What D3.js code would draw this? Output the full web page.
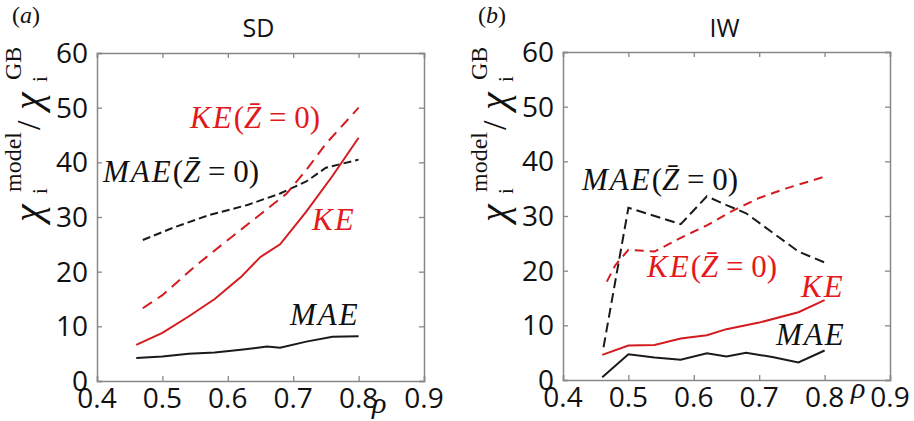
<!DOCTYPE html>
<html>
<head>
<meta charset="utf-8">
<script src="https://cdn.jsdelivr.net/npm/d3@7"></script>
<style>
  body { margin: 0; background: #fff; }
</style>
</head>
<body>
<div id="chart"></div>
<script>
// axis ticks
const rhoTicks = [0.4, 0.5, 0.6, 0.7, 0.8, 0.9];
const chiTicks = [0, 10, 20, 30, 40, 50, 60];

// (a) SD   [rho, chi_model / chi_GB]
const sdKE = [[0.46, 6.6], [0.5, 8.8], [0.54, 11.8], [0.58, 15], [0.62, 19], [0.65, 22.7], [0.68, 25], [0.72, 31], [0.76, 37.5], [0.8, 44.5]];
const sdKE0 = [[0.47, 13.3], [0.5, 15.7], [0.55, 21], [0.6, 25.8], [0.65, 30.5], [0.69, 34.3], [0.72, 38.6], [0.75, 43.4], [0.8, 50]];
const sdMAE = [[0.46, 4.2], [0.5, 4.5], [0.54, 5], [0.58, 5.2], [0.62, 5.7], [0.66, 6.3], [0.68, 6.1], [0.72, 7.2], [0.76, 8.1], [0.8, 8.2]];
const sdMAE0 = [[0.47, 25.8], [0.52, 28.2], [0.57, 30.3], [0.63, 32.2], [0.68, 34.3], [0.72, 36.5], [0.75, 39], [0.8, 40.5]];

// (b) IW
const iwKE = [[0.46, 4.6], [0.5, 6.3], [0.54, 6.4], [0.58, 7.6], [0.62, 8.2], [0.65, 9.3], [0.7, 10.5], [0.76, 12.4], [0.8, 14.6]];
const iwKE0 = [[0.467, 18], [0.48, 21], [0.5, 23.8], [0.54, 23.5], [0.58, 26], [0.62, 28.3], [0.66, 31], [0.7, 33.3], [0.74, 35], [0.8, 37.2]];
const iwMAE = [[0.46, 0.5], [0.5, 4.7], [0.54, 4.1], [0.58, 3.7], [0.62, 4.9], [0.65, 4.3], [0.68, 5], [0.72, 4.2], [0.76, 3.2], [0.8, 5.4]];
const iwMAE0 = [[0.462, 6], [0.5, 31.5], [0.58, 28.5], [0.62, 33.6], [0.65, 32], [0.68, 30.5], [0.76, 23.5], [0.8, 21.5]];

const RED = "#d41c20";
const BLACK = "#1a1a1a";
const MATH = "'Liberation Serif', serif";
const SANS = "'Open Sans', sans-serif";

const panels = [
  {
    tag: "a", title: "SD", x0: 97, x1: 424, y0: 381, y1: 53, ox: 0,
    rhoLabel: [372, 413],
    series: [
      { data: sdMAE0, color: BLACK, dash: "8,4" },
      { data: sdKE0, color: RED, dash: "11,7" },
      { data: sdKE, color: RED, dash: null },
      { data: sdMAE, color: BLACK, dash: null }
    ],
    labels: [
      { name: "KE", zero: true, color: RED, x: 190, y: 128 },
      { name: "MAE", zero: true, color: BLACK, x: 103, y: 182 },
      { name: "KE", zero: false, color: RED, x: 312, y: 230 },
      { name: "MAE", zero: false, color: BLACK, x: 290, y: 325 }
    ]
  },
  {
    tag: "b", title: "IW", x0: 563, x1: 890, y0: 380, y1: 52, ox: 466,
    rhoLabel: [851, 398],
    series: [
      { data: iwMAE0, color: BLACK, dash: "10,5" },
      { data: iwKE0, color: RED, dash: "9,6" },
      { data: iwKE, color: RED, dash: null },
      { data: iwMAE, color: BLACK, dash: null }
    ],
    labels: [
      { name: "MAE", zero: true, color: BLACK, x: 582, y: 190 },
      { name: "KE", zero: true, color: RED, x: 647, y: 277 },
      { name: "KE", zero: false, color: RED, x: 801, y: 297 },
      { name: "MAE", zero: false, color: BLACK, x: 776, y: 345 }
    ]
  }
];

const svg = d3.select("#chart")
  .append("svg")
  .attr("width", 914)
  .attr("height", 421)
  .style("display", "block");

panels.forEach((p) => {
  const x = d3.scaleLinear().domain([0.4, 0.9]).range([p.x0, p.x1]);
  const y = d3.scaleLinear().domain([0, 60]).range([p.y0, p.y1]);
  const g = svg.append("g");

  // frame and inward ticks on all four sides
  g.append("g")
    .attr("transform", `translate(0,${p.y0})`)
    .call(d3.axisBottom(x).tickValues(rhoTicks).tickSize(-5).tickFormat(""));
  g.append("g")
    .attr("transform", `translate(0,${p.y1})`)
    .call(d3.axisTop(x).tickValues(rhoTicks).tickSize(-5).tickFormat(""));
  g.append("g")
    .attr("transform", `translate(${p.x0},0)`)
    .call(d3.axisLeft(y).tickValues(chiTicks).tickSize(-5).tickFormat(""));
  g.append("g")
    .attr("transform", `translate(${p.x1},0)`)
    .call(d3.axisRight(y).tickValues(chiTicks).tickSize(-5).tickFormat(""));
  g.selectAll(".domain").attr("stroke", "#888").attr("stroke-width", 1.5);
  g.selectAll(".tick line").attr("stroke", "#888").attr("stroke-width", 1.3);

  // tick labels
  g.selectAll(".xl")
    .data(rhoTicks)
    .enter()
    .append("text")
    .attr("x", (d) => x(d))
    .attr("y", p.y0 + 27)
    .attr("text-anchor", "middle")
    .style("font-family", SANS)
    .style("font-size", "28px")
    .attr("fill", "#111")
    .text((d) => d.toFixed(1));
  g.selectAll(".yl")
    .data(chiTicks)
    .enter()
    .append("text")
    .attr("x", p.x0 - 9)
    .attr("y", (d) => y(d) + 10)
    .attr("text-anchor", "end")
    .style("font-family", SANS)
    .style("font-size", "28px")
    .attr("fill", "#111")
    .text((d) => d);

  // data lines
  const line = d3.line().x((d) => x(d[0])).y((d) => y(d[1]));
  p.series.forEach((s) => {
    g.append("path")
      .datum(s.data)
      .attr("d", line)
      .attr("fill", "none")
      .attr("stroke", s.color)
      .attr("stroke-width", 2)
      .attr("stroke-dasharray", s.dash);
  });

  // curve labels (math italic)
  p.labels.forEach((l) => {
    const t = g.append("text")
      .attr("x", l.x)
      .attr("y", l.y)
      .attr("fill", l.color === RED ? "#e3191c" : "#111")
      .style("font-family", MATH)
      .style("font-size", "31px");
    t.append("tspan").style("font-style", "italic").attr("letter-spacing", "2").text(l.name);
    if (l.zero) {
      t.append("tspan").text("(");
      t.append("tspan").style("font-style", "italic").text("Z\u0304");
      t.append("tspan").text(" = 0)");
    }
  });

  // panel tag and title
  const tag = g.append("text")
    .attr("x", p.ox + 12)
    .attr("y", 23)
    .style("font-family", "'Liberation Serif', serif")
    .style("font-size", "24px")
    .attr("fill", "#111");
  tag.append("tspan").text("(");
  tag.append("tspan").style("font-style", "italic").text(p.tag);
  tag.append("tspan").text(")");

  g.append("text")
    .attr("x", (p.x0 + p.x1) / 2 - 2)
    .attr("y", 37)
    .attr("text-anchor", "middle")
    .style("font-family", SANS)
    .style("font-size", "25px")
    .attr("fill", "#111")
    .text(p.title);

  // rho label
  g.append("text")
    .attr("x", p.rhoLabel[0])
    .attr("y", p.rhoLabel[1])
    .style("font-family", MATH)
    .style("font-style", "italic")
    .style("font-size", "30px")
    .attr("fill", "#111")
    .text("\u03c1");

  // y label: chi_i^model / chi_i^GB
  const yl = g.append("g")
    .attr("transform", `translate(${p.ox + 41},222) rotate(-90)`)
    .style("font-family", "'Liberation Serif', serif")
    .attr("fill", "#111");
  const part = (txt, lx, ly, size, italic) =>
    yl.append("text").attr("x", lx).attr("y", ly)
      .style("font-size", size + "px")
      .style("font-style", italic ? "italic" : "normal")
      .text(txt);
  part("\u03c7", 0, 0, 40, true);
  part("model", 30, -20, 24, false);
  part("i", 28, 6, 21, false);
  part("/", 92, -1, 34, false);
  part("\u03c7", 112, 0, 40, true);
  part("GB", 142, -20, 24, false);
  part("i", 140, 6, 21, false);
});
</script>
</body>
</html>
